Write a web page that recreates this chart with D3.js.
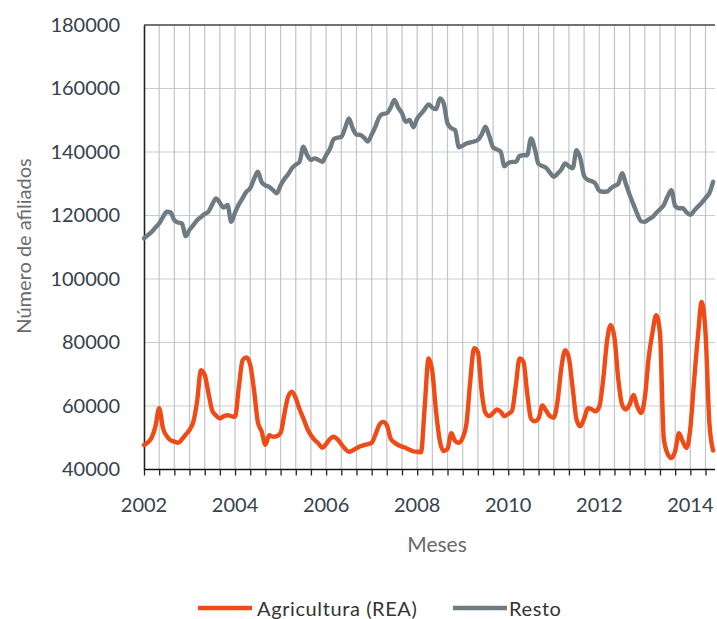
<!DOCTYPE html>
<html><head><meta charset="utf-8">
<script src="https://cdn.jsdelivr.net/npm/d3@7"></script>
<style>body{margin:0;background:#fff;}svg{display:block;font-family:Lato,"Open Sans",sans-serif;}</style>
</head><body>
<svg id="c" width="717" height="619"></svg>
<script>
// Monthly data, Jan 2002 .. Jul 2014
const startYear = 2002;
const agricultura = [
47700,48500,50000,53500,59300,53000,50500,49200,48800,48400,49500,51000,
52500,55000,61500,71300,69800,64000,58500,57000,56100,56800,57100,56800,
56600,66000,74500,75300,73000,65000,55000,52000,47800,50800,50300,50500,
51500,57500,63000,64500,62500,59000,56100,53000,50800,49300,48200,46800,
48000,49600,50300,49500,48000,46500,45600,46000,46700,47300,47700,48000,
48400,51000,54000,55000,54000,49800,48500,47700,47200,46800,46200,45700,
45600,45400,60000,75000,70800,58000,48800,45800,46500,51400,49000,48400,
50000,54500,68000,78200,77000,64500,57800,56800,57800,58900,58200,56800,
57500,58500,66500,75000,74000,64000,56000,55200,56100,60200,58500,56800,
56300,61500,72000,77600,75000,65500,55800,53600,56000,59300,59000,58300,
59800,68000,80000,85500,81500,68500,60500,58900,60500,63500,59900,57800,
62500,75000,83000,88600,82900,49800,45000,43600,45800,51400,48800,46800,
53000,68000,82000,92800,83000,55000,46000];
const resto = [
112800,113800,114800,116200,117500,119500,121200,121000,118500,117800,117500,113500,
115500,117000,118500,119500,120500,121200,123500,125400,124000,122500,123300,118000,
121000,123500,125500,127500,128600,131500,133800,130500,129500,129000,128000,127000,
129500,131500,133000,134900,136000,136900,141700,139000,137500,138000,137500,136900,
139000,141000,144000,144500,144800,147500,150600,147500,145500,145400,144500,143300,
145500,148000,151000,152000,152200,154000,156400,154000,152200,149500,150100,147800,
150500,152000,153500,155000,154000,153500,156900,155300,149000,147500,146900,141500,
142000,142700,143000,143300,143800,145500,148000,145000,141500,140800,140100,135500,
136500,136900,136900,138800,139000,139000,144300,141000,136200,135600,135000,133500,
132200,133200,134500,136400,135500,134900,140600,138000,132500,131200,130800,130000,
127800,127500,127500,128500,129300,130000,133300,130000,126500,123500,120500,118200,
118000,118800,119500,120800,122000,123300,126000,128000,123000,122300,122300,121000,
120200,121500,122800,124000,125500,127000,130600];
const yTicks = [40000,60000,80000,100000,120000,140000,160000,180000];
const xLabelYears = [2002,2004,2006,2008,2010,2012,2014];
const seriesNames = ["Agricultura (REA)","Resto"];
const colors = ["#f04b16","#6f7b83"];

const svg = d3.select("#c");
const L=144, R=715, T=25, B=469.5;
const x = d3.scaleLinear().domain([0,150.5]).range([L,R]);
const y = d3.scaleLinear().domain([40000,180000]).range([B,T]);

// horizontal gridlines
svg.append("g").selectAll("line").data(yTicks.filter(d=>d>40000&&d<180000)).join("line")
  .attr("x1",L).attr("x2",R).attr("y1",d=>y(d)).attr("y2",d=>y(d))
  .attr("stroke","#c9cdd1").attr("stroke-width",1.2);
// vertical gridlines every 4 months
const vg = d3.range(4,151,4);
svg.append("g").selectAll("line").data(vg).join("line")
  .attr("x1",d=>x(d)).attr("x2",d=>x(d)).attr("y1",T).attr("y2",B)
  .attr("stroke","#bfc5ca").attr("stroke-width",1.2);
// top border
svg.append("line").attr("x1",L).attr("x2",R).attr("y1",T).attr("y2",T).attr("stroke","#444").attr("stroke-width",1.3);

// y axis
const yAxis = svg.append("g").attr("transform",`translate(${L},0)`)
  .call(d3.axisLeft(y).tickValues(yTicks).tickSize(0).tickPadding(24).tickFormat(d3.format("d")));
yAxis.select(".domain").attr("stroke","#222").attr("stroke-width",1.6);
yAxis.selectAll("text").attr("font-size",20).attr("fill","#36414c").attr("font-family","Lato,sans-serif");

// x axis
const xAxis = svg.append("g").attr("transform",`translate(0,${B})`)
  .call(d3.axisBottom(x).tickValues(d3.range(0,151,4)).tickSize(6).tickFormat(""));
xAxis.select(".domain").attr("stroke","#111").attr("stroke-width",1.6).attr("d",`M${L},0H${R}`);
xAxis.selectAll(".tick line").attr("stroke","#222").attr("stroke-width",1.3);
svg.append("g").selectAll("text").data(xLabelYears).join("text")
  .attr("x",d=>x((d-startYear)*12)).attr("y",B+42)
  .attr("text-anchor","middle").attr("font-size",20).attr("fill","#36414c").text(d=>d);

// lines
const line = d3.line().x((d,i)=>x(i)).y(d=>y(d)).curve(d3.curveMonotoneX);
[resto, agricultura].forEach((s,k)=>{
  svg.append("path").attr("d",line(s)).attr("fill","none")
    .attr("stroke", k===0?colors[1]:colors[0]).attr("stroke-width",4.4)
    .attr("stroke-linejoin","round").attr("stroke-linecap","round");
});

// titles
svg.append("text").attr("x",437).attr("y",552).attr("text-anchor","middle")
  .attr("font-size",21).attr("fill","#6a6a6a").text("Meses");
svg.append("text").attr("transform","translate(31,246) rotate(-90)").attr("text-anchor","middle")
  .attr("font-size",20).attr("fill","#6a6a6a").text("Número de afiliados");

// legend
const lg = svg.append("g");
const items = [{n:seriesNames[0],c:colors[0],x:198,tx:257},{n:seriesNames[1],c:colors[1],x:453,tx:509}];
items.forEach(it=>{
  lg.append("line").attr("x1",it.x).attr("x2",it.x+54).attr("y1",608).attr("y2",608)
    .attr("stroke",it.c).attr("stroke-width",4.5);
  lg.append("text").attr("x",it.tx).attr("y",616).attr("font-size",20).attr("letter-spacing",0.6)
    .attr("fill","#333").text(it.n);
});
</script>
</body></html>
